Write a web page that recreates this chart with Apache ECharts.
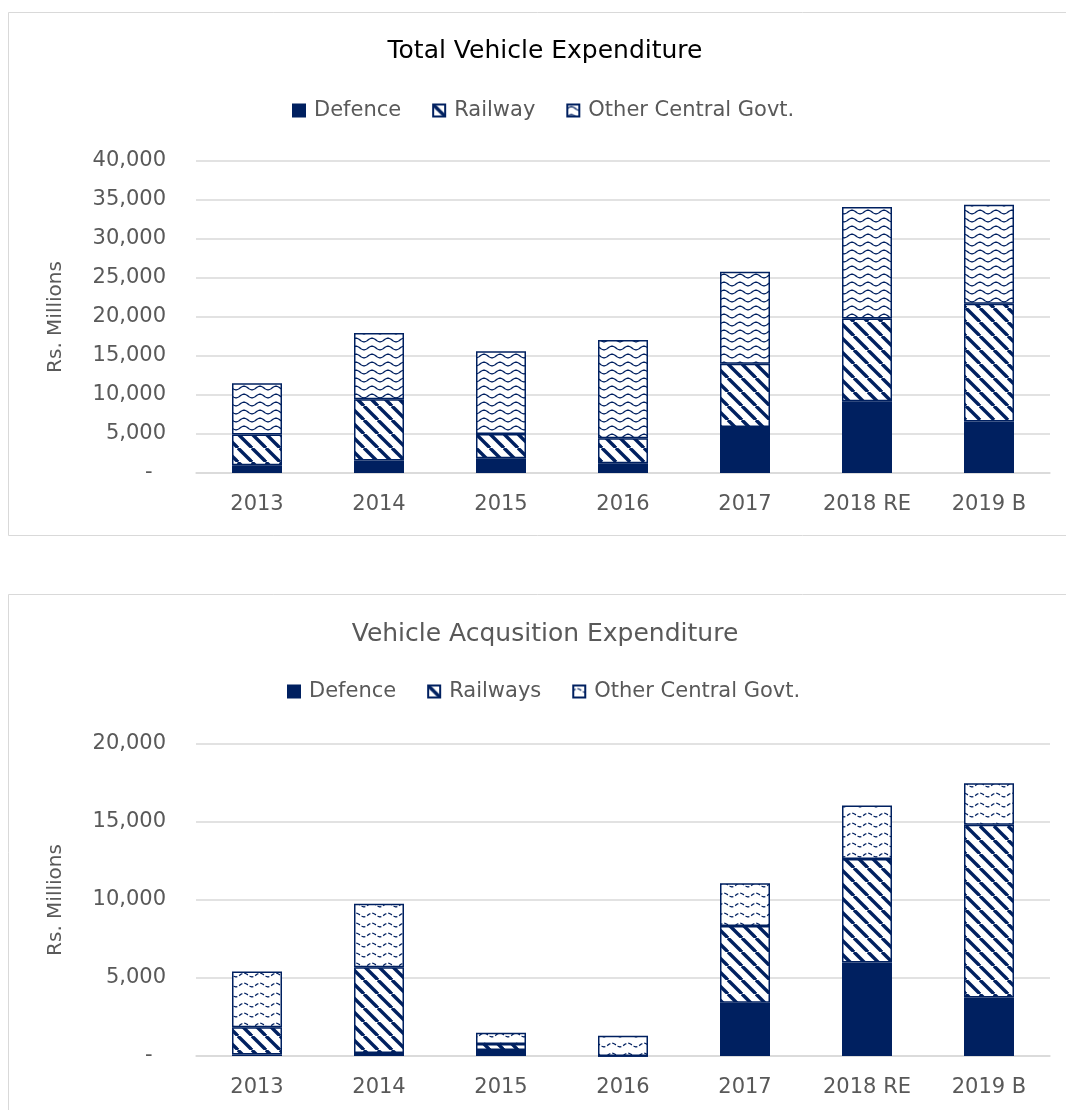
<!DOCTYPE html>
<html><head><meta charset="utf-8">
<script src="https://cdn.jsdelivr.net/npm/echarts@6/dist/echarts.min.js"></script>
<style>html,body{margin:0;padding:0;background:#fff}#c{width:1066px;height:1110px}</style>
</head><body><div id="c"></div>
<script>
// ---- data ----
const categories = ['2013', '2014', '2015', '2016', '2017', '2018 RE', '2019 B'];
const totalDefence = [1000, 1600, 1900, 1250, 5900, 9200, 6600];
const totalRailway = [3950, 7850, 3100, 3200, 8100, 10600, 15100];
const totalOther   = [6550, 8500, 10600, 12600, 11800, 14300, 12700];
const acqDefence   = [100, 200, 380, 0, 3410, 5990, 3750];
const acqRailways  = [1750, 5490, 390, 0, 4920, 6640, 11070];
const acqOther     = [3560, 4070, 720, 1300, 2740, 3430, 2670];
const topTicks = {min: 0, max: 40000, interval: 5000};
const botTicks = {min: 0, max: 20000, interval: 5000};

const NAVY = '#002060';
const GREY = '#595959';
const FONT = 'DejaVu Sans';

function stripePattern() {
  const s = 14, c = document.createElement('canvas');
  c.width = s; c.height = s;
  const g = c.getContext('2d');
  g.fillStyle = '#fff'; g.fillRect(0, 0, s, s);
  g.strokeStyle = NAVY; g.lineWidth = 3.4;
  for (let k = -1; k <= 1; k++) {
    g.beginPath(); g.moveTo(k * s, 0); g.lineTo(k * s + s, s); g.stroke();
  }
  return c;
}
function wavePattern(h, dashed) {
  const w = 16, c = document.createElement('canvas');
  c.width = w; c.height = h;
  const g = c.getContext('2d');
  g.fillStyle = '#fff'; g.fillRect(0, 0, w, h);
  g.strokeStyle = NAVY; g.lineWidth = 1.3;
  if (dashed) g.setLineDash([4, 2]);
  g.beginPath();
  for (let x = -1; x <= w + 1; x += 0.5) {
    const y = h / 2 - 1.8 * Math.sin(2 * Math.PI * x / w);
    if (x === -1) g.moveTo(x, y); else g.lineTo(x, y);
  }
  g.stroke();
  return c;
}
const stripe = {image: stripePattern(), repeat: 'repeat'};
const waveTop = {image: wavePattern(8, false), repeat: 'repeat'};
const waveBot = {image: wavePattern(10, true), repeat: 'repeat'};

function barSeries(name, data, color, idx, stack) {
  return {
    name, type: 'bar', stack, data, barWidth: 50,
    xAxisIndex: idx, yAxisIndex: idx,
    itemStyle: {color, borderColor: NAVY, borderWidth: 1.5},
    emphasis: {disabled: true}
  };
}

const axisLabelY = {
  color: GREY, fontSize: 21, fontFamily: FONT, margin: 30,
  formatter: v => v === 0 ? '-  ' : v.toLocaleString('en-US')
};
const yCommon = {
  type: 'value',
  name: 'Rs. Millions', nameLocation: 'middle', nameRotate: 90, nameGap: 130,
  nameTextStyle: {color: GREY, fontSize: 20, fontFamily: FONT},
  axisLine: {show: false}, axisTick: {show: false},
  splitLine: {lineStyle: {color: '#d9d9d9', width: 1.5}},
  axisLabel: axisLabelY
};
const xCommon = {
  type: 'category', data: categories,
  axisLine: {lineStyle: {color: '#d9d9d9', width: 1.5}},
  axisTick: {show: false},
  axisLabel: {color: GREY, fontSize: 21, fontFamily: FONT, margin: 21}
};
const strip = n => n.replace(/_2$/, '');
const legendText = {color: GREY, fontSize: 21, fontFamily: FONT, padding: [0, 0, 0, 4]};

const chart = echarts.init(document.getElementById('c'), null, {renderer: 'canvas'});
chart.setOption({
  backgroundColor: '#fff',
  animation: false,
  graphic: [
    {type: 'rect', shape: {x: 8.5, y: 12.5, width: 1080, height: 523}, style: {fill: 'none', stroke: '#d9d9d9', lineWidth: 1}, silent: true},
    {type: 'rect', shape: {x: 8.5, y: 594.5, width: 1080, height: 540}, style: {fill: 'none', stroke: '#d9d9d9', lineWidth: 1}, silent: true}
  ],
  title: [
    {text: 'Total Vehicle Expenditure', left: 545, textAlign: 'center', top: 39, padding: 0,
     textStyle: {color: '#000', fontSize: 25, fontWeight: 'normal', fontFamily: FONT}},
    {text: 'Vehicle Acqusition Expenditure', left: 545, textAlign: 'center', top: 622, padding: 0,
     textStyle: {color: GREY, fontSize: 25, fontWeight: 'normal', fontFamily: FONT}}
  ],
  legend: [
    {data: ['Defence', 'Railway', 'Other Central Govt.'], left: 292, top: 100, padding: 0,
     itemWidth: 12, itemHeight: 12, itemGap: 31, icon: 'rect', textStyle: legendText},
    {data: ['Defence_2', 'Railways_2', 'Other Central Govt._2'], left: 287, top: 681, padding: 0,
     itemWidth: 12, itemHeight: 12, itemGap: 31, icon: 'rect', formatter: strip, textStyle: legendText}
  ],
  tooltip: {show: false},
  grid: [
    {left: 196, right: 16, top: 161, height: 312},
    {left: 196, right: 16, top: 744, height: 312}
  ],
  xAxis: [
    Object.assign({gridIndex: 0}, xCommon),
    Object.assign({gridIndex: 1}, xCommon)
  ],
  yAxis: [
    Object.assign({gridIndex: 0}, yCommon, topTicks),
    Object.assign({gridIndex: 1}, yCommon, botTicks)
  ],
  series: [
    barSeries('Defence', totalDefence, NAVY, 0, 'top'),
    barSeries('Railway', totalRailway, stripe, 0, 'top'),
    barSeries('Other Central Govt.', totalOther, waveTop, 0, 'top'),
    barSeries('Defence_2', acqDefence, NAVY, 1, 'bot'),
    barSeries('Railways_2', acqRailways, stripe, 1, 'bot'),
    barSeries('Other Central Govt._2', acqOther, waveBot, 1, 'bot')
  ]
});
</script></body></html>
